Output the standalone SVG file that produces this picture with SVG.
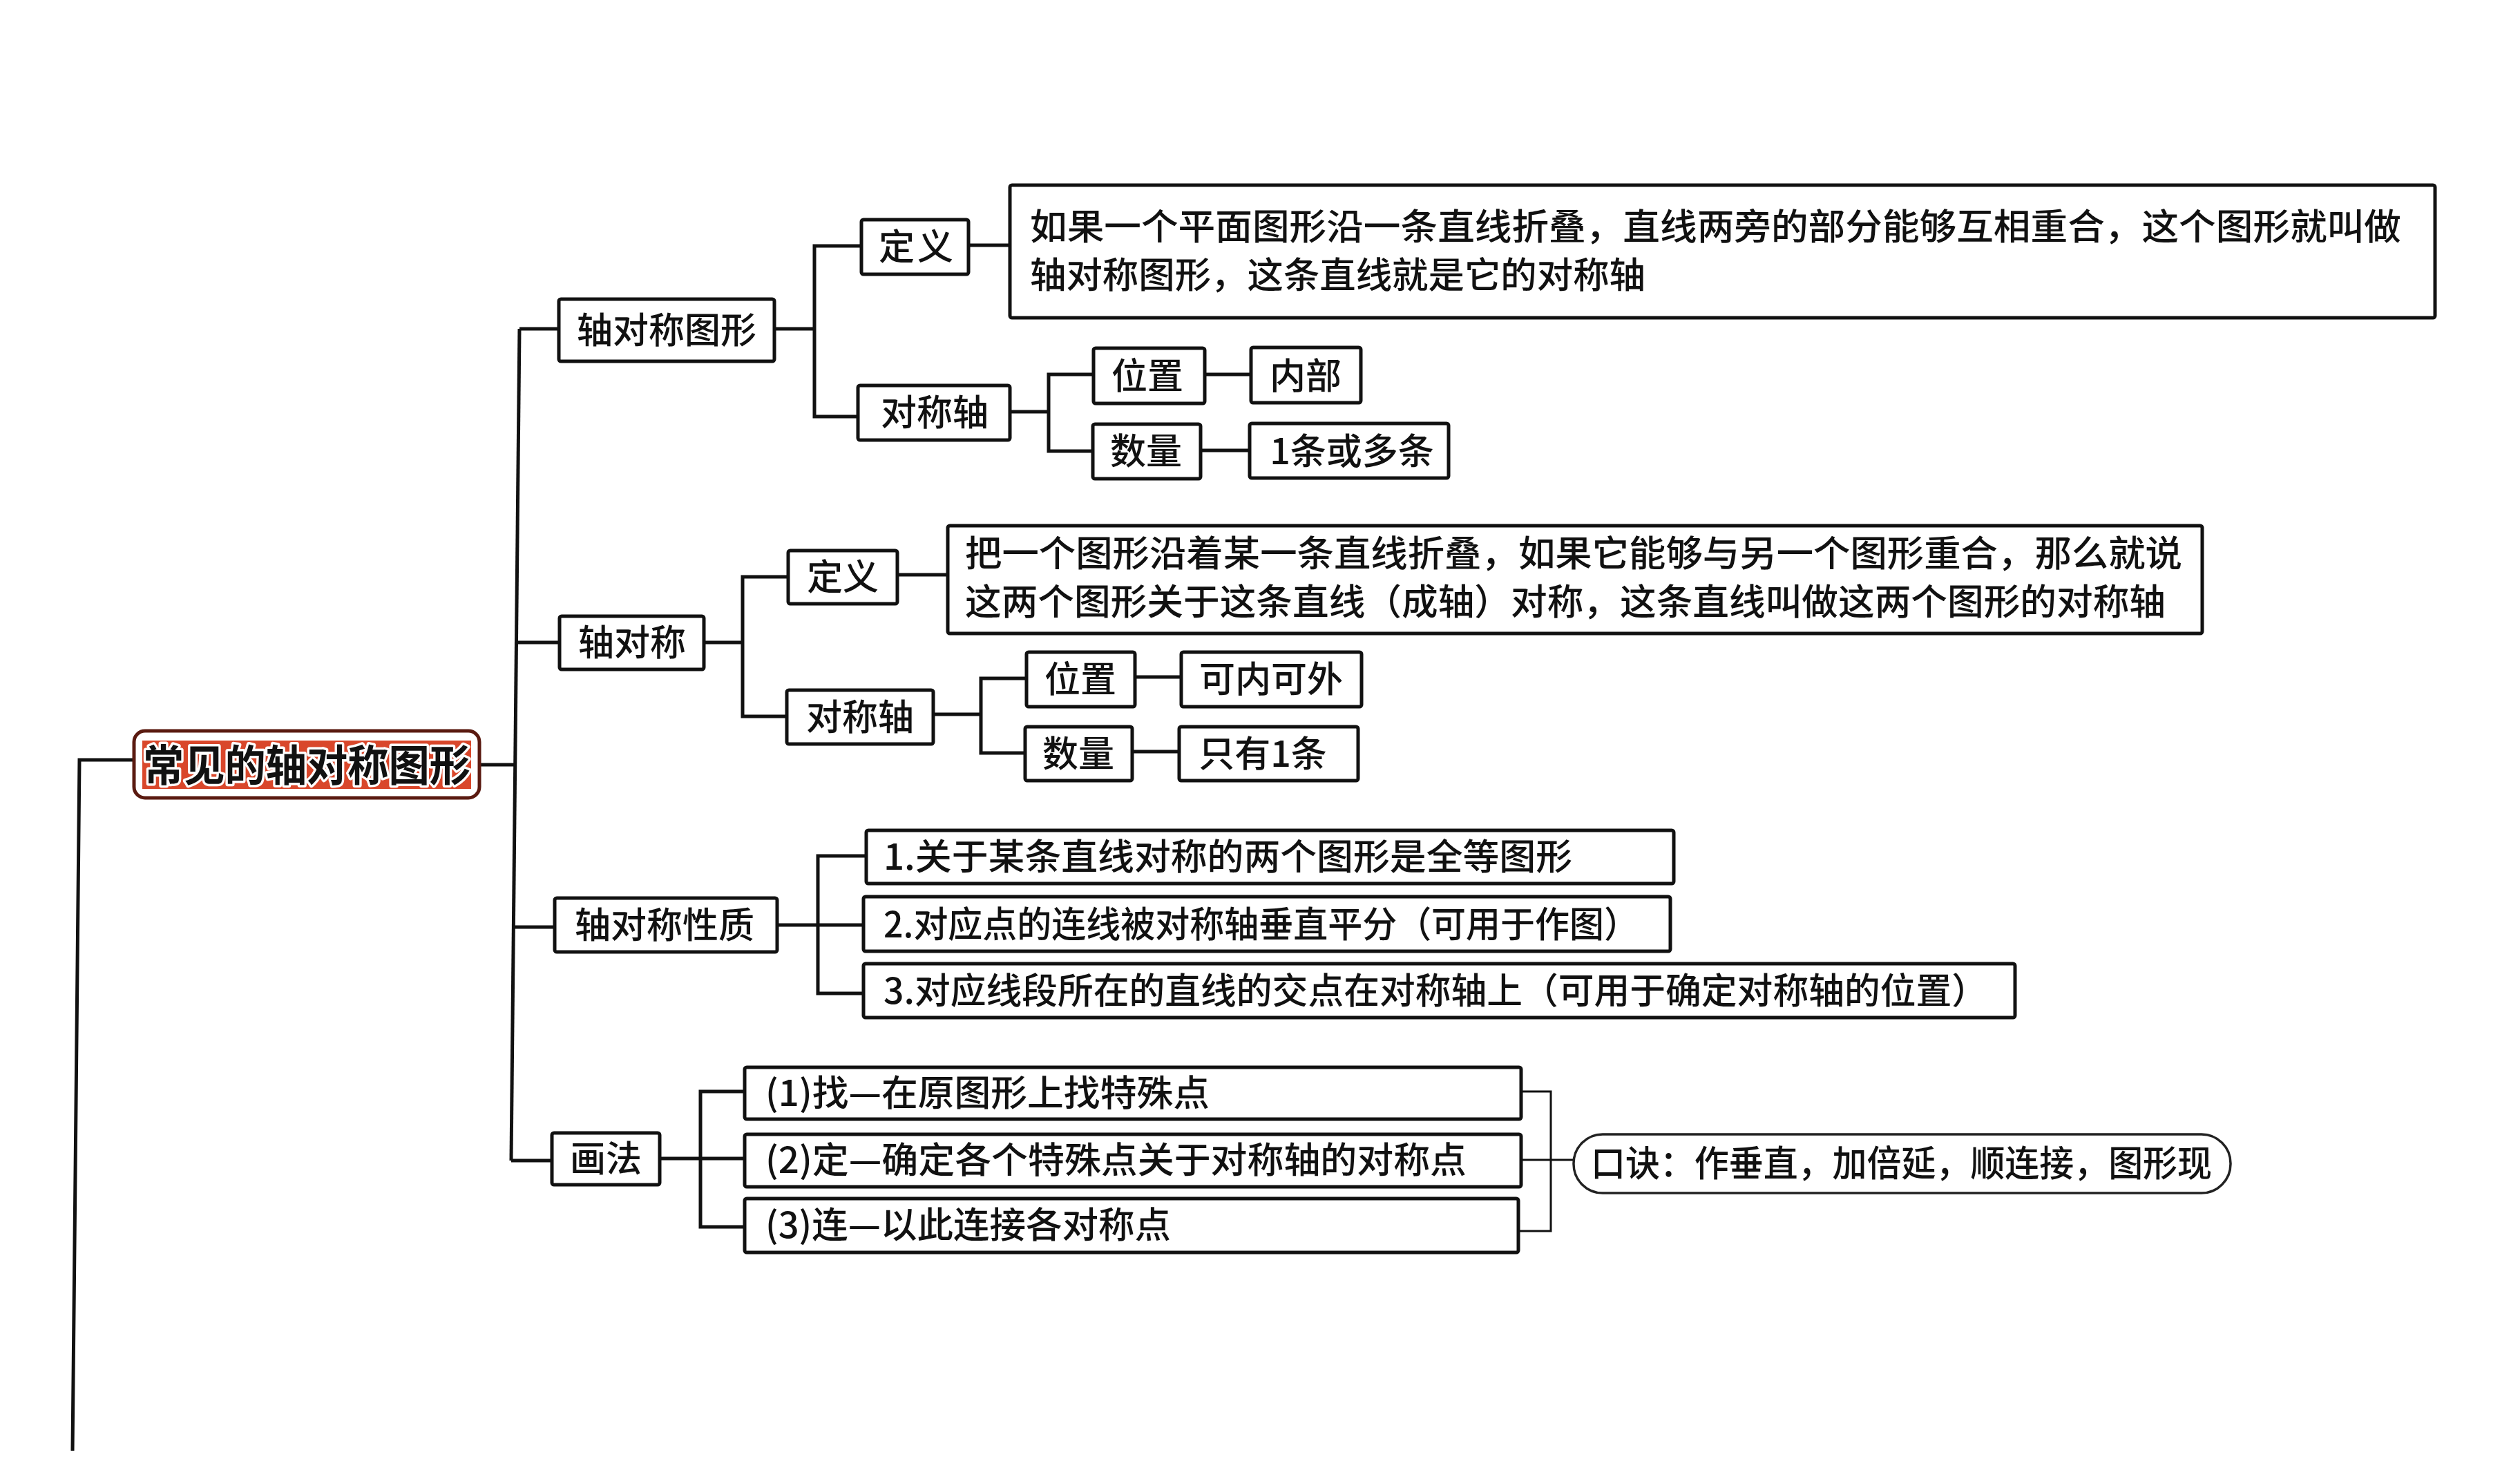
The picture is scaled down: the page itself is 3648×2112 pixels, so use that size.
<svg xmlns="http://www.w3.org/2000/svg" width="3648" height="2112" viewBox="0 0 3648 2112">
<defs>
<style>
.bg{fill:#ffffff}
.box{fill:#ffffff;stroke:#111111;stroke-width:5;rx:3}
.conn path{fill:none;stroke:#111111;stroke-width:5;stroke-linejoin:miter}
.conn .thin{stroke-width:3}
.t{font-family:"Noto Sans CJK SC","Noto Sans",sans-serif;font-size:52px;fill:#111111;font-weight:500}
.c{text-anchor:middle}
.root-outer{fill:#ffffff;stroke:#5a1a10;stroke-width:5}
.root-inner{fill:#d9472b}
.root-t{font-family:"Noto Sans CJK SC","Noto Sans",sans-serif;font-size:62px;font-weight:700;fill:#111111;stroke:#ffffff;stroke-width:7px;paint-order:stroke;stroke-linejoin:round;text-anchor:middle}
.pill{fill:#ffffff;stroke:#222222;stroke-width:3.5}
</style>
</defs>
<rect class="bg" x="0" y="0" width="3648" height="2112"/>

<g id="connectors" class="conn">
<path d="M194,1100 H115 L105,2100"/>
<path d="M694,1107 H746"/>
<path d="M752,476 L740,1680"/>
<path d="M752,476 H809"/>
<path d="M747,930 H810"/>
<path d="M743,1342 H803"/>
<path d="M740,1680 H799"/>
<path d="M1121,476 H1179"/>
<path d="M1247,356 H1179 V603 H1242"/>
<path d="M1402,355 H1462"/>
<path d="M1462,596 H1518"/>
<path d="M1583,542 H1518 V653 H1582"/>
<path d="M1744,542 H1811"/>
<path d="M1738,652 H1809"/>
<path d="M1019,930 H1075"/>
<path d="M1141,835 H1075 V1037 H1139"/>
<path d="M1299,832 H1372"/>
<path d="M1351,1034 H1420"/>
<path d="M1486,982 H1420 V1090 H1484"/>
<path d="M1643,980 H1710"/>
<path d="M1639,1088 H1707"/>
<path d="M1125,1339 H1184"/>
<path d="M1254,1239 H1184 V1438 H1250"/>
<path d="M1184,1339 H1250"/>
<path d="M955,1677 H1014"/>
<path d="M1078,1580 H1014 V1776 H1078"/>
<path d="M1014,1677 H1078"/>
<path class="thin" d="M2202,1580 H2245 V1782 H2198"/>
<path class="thin" d="M2202,1679 H2278"/>
</g>

<g id="root">
<rect class="root-outer" x="194" y="1058" width="500" height="97" rx="16"/>
<rect class="root-inner" x="206" y="1072" width="476" height="70"/>
<text class="root-t" x="444" y="1131" textLength="474" lengthAdjust="spacingAndGlyphs">常见的轴对称图形</text>
</g>

<g id="n1">
<rect class="box" x="809" y="433" width="312" height="90"/>
<text class="t c" x="965" y="497">轴对称图形</text>
</g>
<g id="n1-def">
<rect class="box" x="1247" y="318" width="155" height="79"/>
<text class="t c" x="1326" y="376" textLength="108" lengthAdjust="spacing">定义</text>
</g>
<g id="n1-def-text">
<rect class="box" x="1462" y="268" width="2063" height="192"/>
<text class="t" x="1491" y="347" textLength="1985" lengthAdjust="spacingAndGlyphs">如果一个平面图形沿一条直线折叠，直线两旁的部分能够互相重合，这个图形就叫做</text>
<text class="t" x="1491" y="417" textLength="891" lengthAdjust="spacingAndGlyphs">轴对称图形，这条直线就是它的对称轴</text>
</g>
<g id="n1-axis">
<rect class="box" x="1242" y="558" width="220" height="79"/>
<text class="t c" x="1353" y="616">对称轴</text>
</g>
<g id="n1-pos">
<rect class="box" x="1583" y="504" width="161" height="80"/>
<text class="t c" x="1661" y="563">位置</text>
</g>
<g id="n1-pos-v">
<rect class="box" x="1811" y="503" width="159" height="80"/>
<text class="t c" x="1890" y="563">内部</text>
</g>
<g id="n1-num">
<rect class="box" x="1582" y="614" width="156" height="79"/>
<text class="t c" x="1659" y="672">数量</text>
</g>
<g id="n1-num-v">
<rect class="box" x="1809" y="613" width="288" height="79"/>
<text class="t c" x="1957" y="672">1条或多条</text>
</g>

<g id="n2">
<rect class="box" x="810" y="892" width="209" height="77"/>
<text class="t c" x="915" y="949">轴对称</text>
</g>
<g id="n2-def">
<rect class="box" x="1141" y="797" width="158" height="77"/>
<text class="t c" x="1220" y="854">定义</text>
</g>
<g id="n2-def-text">
<rect class="box" x="1372" y="761" width="1816" height="156"/>
<text class="t" x="1397" y="820" textLength="1762" lengthAdjust="spacingAndGlyphs">把一个图形沿着某一条直线折叠，如果它能够与另一个图形重合，那么就说</text>
<text class="t" x="1397" y="890" textLength="1738" lengthAdjust="spacingAndGlyphs">这两个图形关于这条直线（成轴）对称，这条直线叫做这两个图形的对称轴</text>
</g>
<g id="n2-axis">
<rect class="box" x="1139" y="999" width="212" height="78"/>
<text class="t c" x="1245" y="1057">对称轴</text>
</g>
<g id="n2-pos">
<rect class="box" x="1486" y="944" width="157" height="79"/>
<text class="t c" x="1564" y="1002">位置</text>
</g>
<g id="n2-pos-v">
<rect class="box" x="1710" y="944" width="261" height="79"/>
<text class="t c" x="1840" y="1002">可内可外</text>
</g>
<g id="n2-num">
<rect class="box" x="1484" y="1052" width="155" height="78"/>
<text class="t c" x="1561" y="1110">数量</text>
</g>
<g id="n2-num-v">
<rect class="box" x="1707" y="1052" width="259" height="78"/>
<text class="t c" x="1828" y="1110">只有1条</text>
</g>

<g id="n3">
<rect class="box" x="803" y="1300" width="322" height="78"/>
<text class="t c" x="962" y="1358">轴对称性质</text>
</g>
<g id="n3-p1">
<rect class="box" x="1254" y="1202" width="1169" height="77"/>
<text class="t" x="1279" y="1259" textLength="997" lengthAdjust="spacingAndGlyphs">1.关于某条直线对称的两个图形是全等图形</text>
</g>
<g id="n3-p2">
<rect class="box" x="1250" y="1298" width="1168" height="79"/>
<text class="t" x="1279" y="1357" textLength="1093" lengthAdjust="spacingAndGlyphs">2.对应点的连线被对称轴垂直平分（可用于作图）</text>
</g>
<g id="n3-p3">
<rect class="box" x="1250" y="1395" width="1667" height="78"/>
<text class="t" x="1279" y="1453" textLength="1598" lengthAdjust="spacingAndGlyphs">3.对应线段所在的直线的交点在对称轴上（可用于确定对称轴的位置）</text>
</g>

<g id="n4">
<rect class="box" x="799" y="1640" width="156" height="75"/>
<text class="t c" x="877" y="1696">画法</text>
</g>
<g id="n4-s1">
<rect class="box" x="1078" y="1545" width="1124" height="75"/>
<text class="t" x="1108" y="1601" textLength="643" lengthAdjust="spacingAndGlyphs">(1)找—在原图形上找特殊点</text>
</g>
<g id="n4-s2">
<rect class="box" x="1078" y="1642" width="1124" height="76"/>
<text class="t" x="1108" y="1698" textLength="1015" lengthAdjust="spacingAndGlyphs">(2)定—确定各个特殊点关于对称轴的对称点</text>
</g>
<g id="n4-s3">
<rect class="box" x="1078" y="1735" width="1120" height="78"/>
<text class="t" x="1108" y="1792" textLength="587" lengthAdjust="spacingAndGlyphs">(3)连—以此连接各对称点</text>
</g>
<g id="n4-rhyme">
<rect class="pill" x="2278" y="1642" width="951" height="85" rx="42"/>
<text class="t" x="2303" y="1703" textLength="899" lengthAdjust="spacingAndGlyphs">口诀：作垂直，加倍延，顺连接，图形现</text>
</g>
</svg>
